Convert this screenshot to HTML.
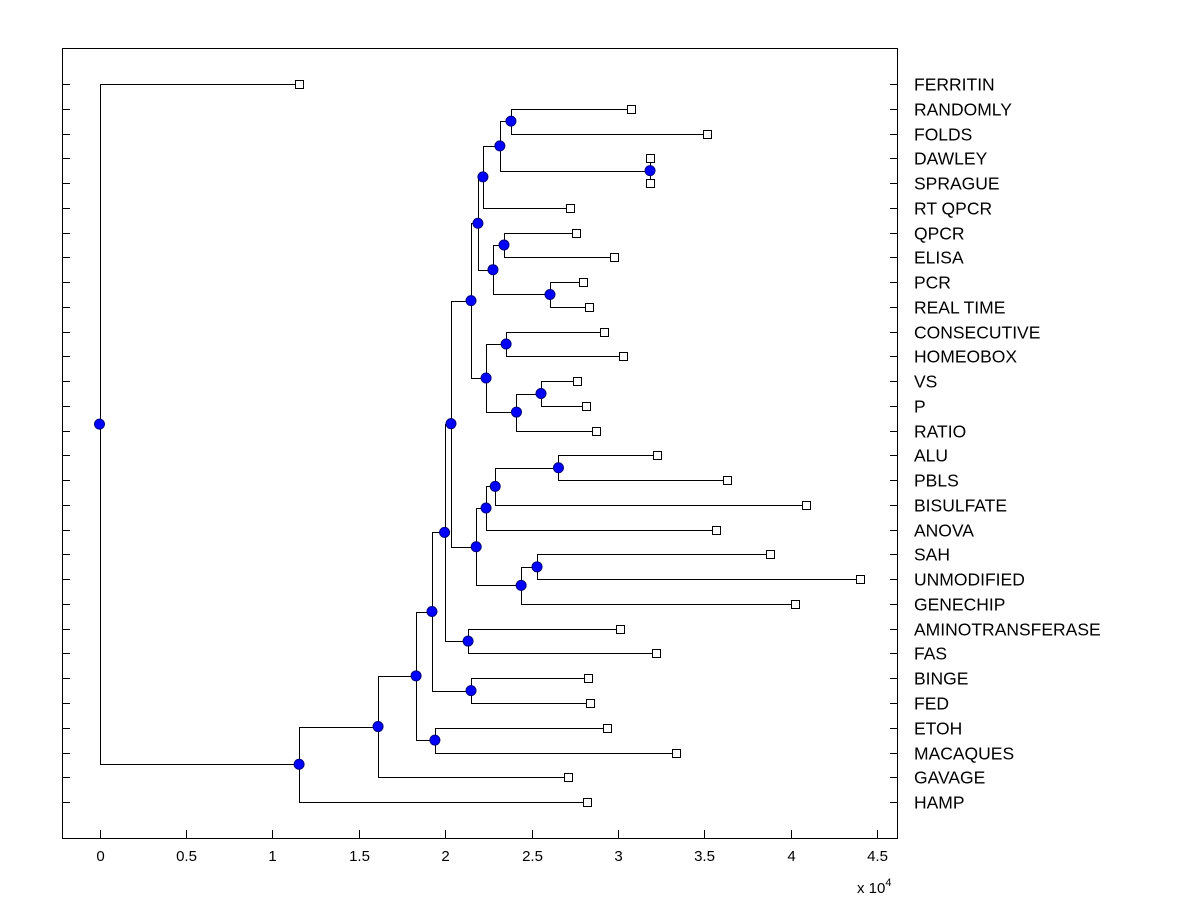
<!DOCTYPE html>
<html><head><meta charset="utf-8"><style>
html,body{margin:0;padding:0;background:#fff;}
svg{display:block;font-family:"Liberation Sans",Arial,sans-serif;}
</style></head><body>
<svg id="chart" width="1200" height="900" viewBox="0 0 1200 900">
<rect x="0" y="0" width="1200" height="900" fill="#fff"/>
<rect x="62.5" y="48.5" width="835" height="790" fill="#fff" stroke="#000" stroke-width="1"/>
<g id="ticks"></g>
<g id="links"></g>
<g id="marks"></g>
<g id="labels"></g>
<text x="857" y="893" font-size="15">x 10<tspan dy="-7" font-size="11">4</tspan></text>
</svg>
<script>
const leafNames = ["FERRITIN","RANDOMLY","FOLDS","DAWLEY","SPRAGUE","RT QPCR","QPCR","ELISA","PCR","REAL TIME","CONSECUTIVE","HOMEOBOX","VS","P","RATIO","ALU","PBLS","BISULFATE","ANOVA","SAH","UNMODIFIED","GENECHIP","AMINOTRANSFERASE","FAS","BINGE","FED","ETOH","MACAQUES","GAVAGE","HAMP"];
const leafValues = [1.155,3.077,3.516,3.186,3.186,2.723,2.758,2.978,2.798,2.833,2.92,3.03,2.763,2.815,2.873,3.226,3.631,4.088,3.568,3.88,4.4,4.025,3.012,3.22,2.827,2.839,2.937,3.337,2.711,2.821];
const mergeLeft  = [1,3,30,32,6,8,34,33,10,12,39,38,37,15,43,44,19,46,45,42,22,49,24,51,26,53,55,56,0];
const mergeRight = [2,4,31,5,7,9,35,36,11,13,14,40,41,16,17,18,20,21,47,48,23,50,25,52,27,54,28,29,57];
const mergeHeights = [2.381,3.186,2.317,2.219,2.341,2.607,2.277,2.19,2.353,2.555,2.413,2.237,2.15,2.656,2.29,2.237,2.532,2.44,2.18,2.034,2.133,1.997,2.15,1.924,1.941,1.832,1.612,1.155,0];
const xTickValues = [0,0.5,1,1.5,2,2.5,3,3.5,4,4.5];
const xTickLabels = ["0","0.5","1","1.5","2","2.5","3","3.5","4","4.5"];

const NS="http://www.w3.org/2000/svg";
const X0=99.5, XS=172.8, Y0=84, YS=24.76;
function xs(v){return X0+v*XS;}
function ys(i){return Y0+i*YS;}
function mk(tag,attrs,parent){const e=document.createElementNS(NS,tag);for(const k in attrs)e.setAttribute(k,attrs[k]);parent.appendChild(e);return e;}
const gT=document.getElementById('ticks'),gL=document.getElementById('links'),gM=document.getElementById('marks'),gLab=document.getElementById('labels');

xTickValues.forEach((v,i)=>{
  const x=Math.round(xs(v))+0.5;
  const t=mk('line',{x1:x,x2:x,y1:838,y2:830,stroke:'#000','stroke-width':1},gT);
  
  
  const l=mk('text',{x:x,y:861,'font-size':15,'text-anchor':'middle'},gT);
  l.textContent=xTickLabels[i];
  
  
});
leafNames.forEach((n,i)=>{
  const y=Math.round(ys(i))+0.5;
  const a=mk('line',{x1:62,x2:70,y1:y,y2:y,stroke:'#000','stroke-width':1},gT);
  
  
  const b=mk('line',{x1:890,x2:898,y1:y,y2:y,stroke:'#000','stroke-width':1},gT);
  
  
  const t=mk('text',{x:914,y:y+6,'font-size':17.5},gLab);
  t.textContent=n;
  
  
});
const nx=[],ny=[];
leafValues.forEach((v,i)=>{nx[i]=v;ny[i]=i;});
mergeLeft.forEach((a,k)=>{
  const b=mergeRight[k],id=leafNames.length+k;
  nx[id]=mergeHeights[k];ny[id]=(ny[a]+ny[b])/2;
});
mergeLeft.forEach((a,k)=>{
  const b=mergeRight[k],id=leafNames.length+k;
  [a,b].forEach(c=>{
    const px=Math.round(xs(nx[id]))+0.5,py=Math.round(ys(ny[id]))+0.5,cx=Math.round(xs(nx[c]))+0.5,cy=Math.round(ys(ny[c]))+0.5;
    const p=mk('path',{d:`M${px},${py}V${cy}H${cx}`,fill:'none',stroke:'#000','stroke-width':1},gL);
    
    
  });
});
leafValues.forEach((v,i)=>{
  const s=mk('rect',{x:Math.round(xs(v))-3.5,y:Math.round(ys(i))-3.5,width:8,height:8,fill:'#fff',stroke:'#000','stroke-width':1},gM);
  
  
});
mergeHeights.forEach((h,k)=>{
  const id=leafNames.length+k;
  const c=mk('circle',{cx:xs(nx[id]),cy:ys(ny[id]),r:5,fill:'#0000ff',stroke:'#00007f','stroke-width':1},gM);
  
  
});
</script>
</body></html>
